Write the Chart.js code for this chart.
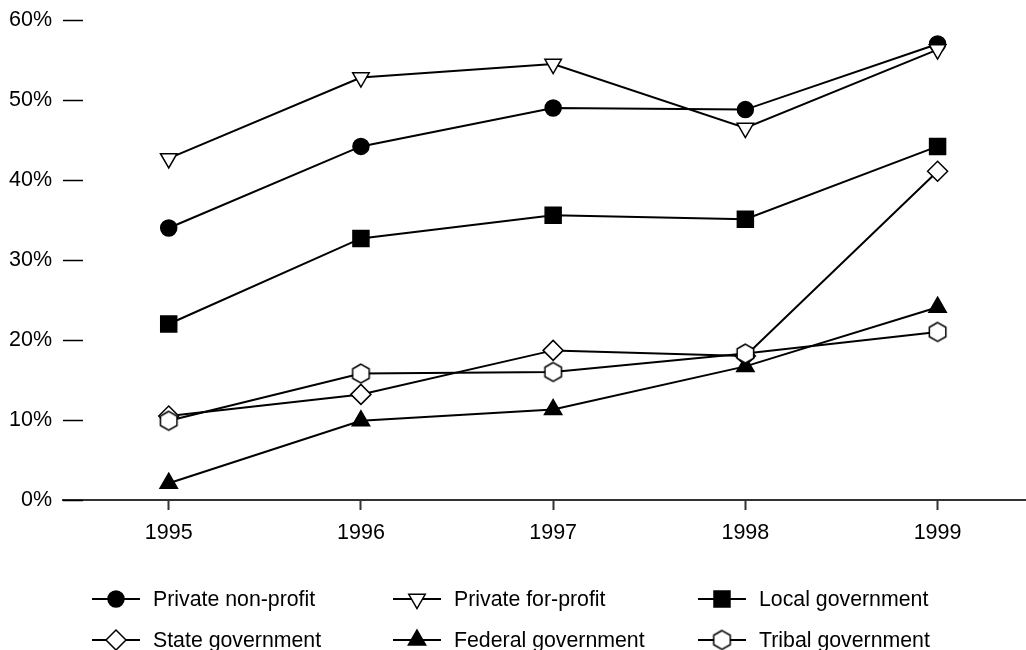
<!DOCTYPE html>
<html>
<head>
<meta charset="utf-8">
<script src="https://cdn.jsdelivr.net/npm/chart.js@4.4.1/dist/chart.umd.min.js"></script>
<style>
  html, body { margin: 0; padding: 0; background: #fff; overflow: hidden; }
  #sectorChart { display: block; }
</style>
</head>
<body>
<canvas id="sectorChart" width="1026" height="650"></canvas>
<script>
// data
var years = [1995, 1996, 1997, 1998, 1999];
var yTicks = [0, 10, 20, 30, 40, 50, 60];
var seriesNames = [
  "Private non-profit",
  "Private for-profit",
  "Local government",
  "State government",
  "Federal government",
  "Tribal government"
];
var privateNonProfit = [34.0, 44.2, 49.0, 48.8, 57.0];
var privateForProfit = [42.7, 52.8, 54.5, 46.5, 56.3];
var localGov = [22.0, 32.7, 35.6, 35.1, 44.2];
var stateGov = [10.5, 13.2, 18.7, 18.0, 41.1];
var federalGov = [2.1, 9.9, 11.3, 16.7, 24.1];
var tribalGov = [9.9, 15.8, 16.0, 18.3, 21.0];

var FONT = "'Liberation Sans', Arial, Helvetica, sans-serif";

// hexagon marker (no built-in style for it)
function makeHexagon(r) {
  var c = document.createElement("canvas");
  var size = Math.ceil(r * 2 + 4);
  c.width = size;
  c.height = size;
  var g = c.getContext("2d");
  var cx = size / 2, cy = size / 2;
  g.beginPath();
  for (var k = 0; k < 6; k++) {
    var a = Math.PI / 2 + k * Math.PI / 3;
    var px = cx + r * Math.cos(a);
    var py = cy - r * Math.sin(a);
    if (k === 0) g.moveTo(px, py); else g.lineTo(px, py);
  }
  g.closePath();
  g.fillStyle = "#fff";
  g.fill();
  g.lineWidth = 1.5;
  g.strokeStyle = "#000";
  g.stroke();
  return c;
}
var hexagon = makeHexagon(9.5);

function toPoints(vals) {
  return years.map(function (yr, i) { return { x: yr, y: vals[i] }; });
}

var markers = [
  { style: "circle", radius: 8, fill: "#000", rotation: 0 },
  { style: "triangle", radius: 9.5, fill: "#fff", rotation: 180 },
  { style: "rect", radius: 11.3, fill: "#000", rotation: 0 },
  { style: "rectRot", radius: 10, fill: "#fff", rotation: 0 },
  { style: "triangle", radius: 10, fill: "#000", rotation: 0 },
  { style: hexagon, radius: 9.5, fill: "#fff", rotation: 0 }
];
var allValues = [privateNonProfit, privateForProfit, localGov, stateGov, federalGov, tribalGov];

var datasets = seriesNames.map(function (name, i) {
  var m = markers[i];
  return {
    label: name,
    data: toPoints(allValues[i]),
    borderColor: "#000",
    borderWidth: 2,
    backgroundColor: m.fill,
    pointStyle: m.style,
    pointRadius: m.radius,
    pointRotation: m.rotation,
    pointBackgroundColor: m.fill,
    pointBorderColor: "#000",
    pointBorderWidth: 1.5,
    tension: 0,
    order: seriesNames.length - i
  };
});

// short dashes beside the y labels
var yDashes = {
  id: "yDashes",
  afterDraw: function (chart) {
    var ctx = chart.ctx;
    var y = chart.scales.y;
    var left = chart.chartArea.left;
    ctx.save();
    ctx.strokeStyle = "#000";
    ctx.lineWidth = 1.5;
    y.ticks.forEach(function (t) {
      var py = Math.round(y.getPixelForValue(t.value)) + 0.5;
      ctx.beginPath();
      ctx.moveTo(left, py);
      ctx.lineTo(left + 20, py);
      ctx.stroke();
    });
    ctx.restore();
  }
};

// legend in a 3 x 2 grid with a line through each marker
var gridLegend = {
  id: "gridLegend",
  afterDraw: function (chart) {
    var ctx = chart.ctx;
    var cols = [92, 393, 698];
    var rows = [599, 640];
    ctx.save();
    chart.data.datasets.forEach(function (ds, i) {
      var x0 = cols[i % 3];
      var yy = rows[Math.floor(i / 3)];
      ctx.strokeStyle = "#000";
      ctx.lineWidth = 2;
      ctx.beginPath();
      ctx.moveTo(x0, yy);
      ctx.lineTo(x0 + 48, yy);
      ctx.stroke();
      ctx.fillStyle = ds.pointBackgroundColor;
      ctx.strokeStyle = "#000";
      ctx.lineWidth = 1.5;
      Chart.helpers.drawPoint(ctx, {
        pointStyle: ds.pointStyle,
        radius: ds.pointRadius,
        rotation: ds.pointRotation,
        borderWidth: 1.5
      }, x0 + 24, yy);
      ctx.fillStyle = "#000";
      ctx.font = "21.3px " + FONT;
      ctx.textBaseline = "middle";
      ctx.textAlign = "left";
      ctx.fillText(ds.label, x0 + 61, yy + 1);
    });
    ctx.restore();
  }
};

var ctx = document.getElementById("sectorChart").getContext("2d");
var sectorChart = new Chart(ctx, {
  type: "line",
  data: { datasets: datasets },
  plugins: [yDashes, gridLegend],
  options: {
    responsive: false,
    animation: false,
    layout: { autoPadding: false, padding: { top: 20, right: 0, bottom: 0, left: 0 } },
    plugins: {
      legend: { display: false },
      tooltip: { enabled: false }
    },
    scales: {
      x: {
        type: "linear",
        min: 1994.45,
        max: 1999.46,
        afterFit: function (s) {
          s.height = 150;
          s.paddingLeft = 0;
          s.paddingRight = 0;
        },
        afterBuildTicks: function (s) {
          s.ticks = years.map(function (yr) { return { value: yr }; });
        },
        ticks: {
          stepSize: 1,
          includeBounds: false,
          padding: 10,
          color: "#000",
          font: { family: FONT, size: 21.5 },
          callback: function (v) { return String(v); }
        },
        grid: {
          display: true,
          drawOnChartArea: false,
          drawTicks: true,
          tickLength: 10,
          tickWidth: 2,
          tickColor: "#333"
        },
        border: { display: true, color: "#333", width: 2 }
      },
      y: {
        min: 0,
        max: 60,
        afterFit: function (s) {
          s.width = 63;
          s.paddingTop = 0;
          s.paddingBottom = 0;
        },
        afterBuildTicks: function (s) {
          s.ticks = yTicks.map(function (v) { return { value: v }; });
        },
        ticks: {
          padding: 11,
          color: "#000",
          font: { family: FONT, size: 21.5 },
          callback: function (v) { return v + "%"; }
        },
        grid: { display: false, drawTicks: false },
        border: { display: false }
      }
    }
  }
});
</script>
</body>
</html>
